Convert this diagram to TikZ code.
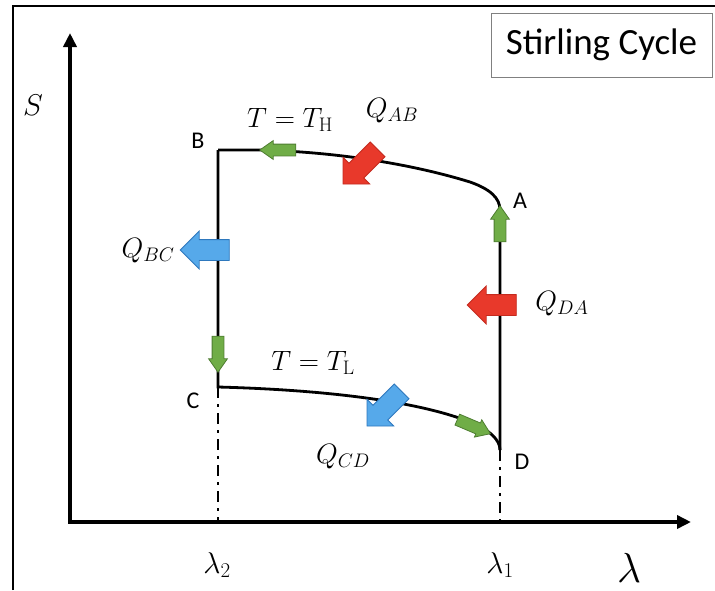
\RequirePackage{fix-cm}
\documentclass[tikz,border=0pt]{standalone}
\usepackage{fontspec}
\setsansfont{Carlito}
\usetikzlibrary{arrows.meta,shapes.arrows,positioning}
\definecolor{qred}{HTML}{E8392B}
\definecolor{qredline}{HTML}{C42A1E}
\definecolor{qblue}{HTML}{56A9EA}
\definecolor{qblueline}{HTML}{2E78BD}
\definecolor{qgreen}{HTML}{70AD47}
\definecolor{qgreenline}{HTML}{4E7D31}
\begin{document}
\begin{tikzpicture}[
  x=1pt, y=-1pt,
  every node/.style={inner sep=0pt},
  frame/.style={line width=2.5pt},
  axis/.style={
    line width=3.5pt,
    {Triangle[length=14pt,width=13pt]}-{Triangle[length=14pt,width=13pt]}
  },
  process/.style={line width=2.8pt},
  projection/.style={line width=2.8pt, dash pattern=on 11pt off 6pt on 3pt off 6pt},
  title/.style={draw=gray, line width=0.8pt, minimum width=221pt, minimum height=64pt,
    font=\sffamily\fontsize{37}{40}\selectfont},
  pointlabel/.style={font=\sffamily\fontsize{24}{28}\selectfont},
  mathlabel/.style={anchor=base, font=\fontsize{28}{32}\selectfont},
  axislabel/.style={anchor=base, font=\fontsize{30}{34}\selectfont},
  bigarrow/.style={
    single arrow, text height=20pt, text depth=0pt,
    minimum height=49pt, minimum width=37pt,
    single arrow head extend=8.5pt, line width=0.8pt
  },
  heatin/.style={bigarrow, fill=qred, draw=qredline},
  heatout/.style={bigarrow, fill=qblue, draw=qblueline},
  flow/.style={
    single arrow, text height=11pt, text depth=0pt,
    minimum height=36pt, minimum width=18pt,
    single arrow head extend=3.5pt, single arrow tip angle=70,
    line width=0.8pt, fill=qgreen, draw=qgreenline
  }
]
\useasboundingbox (0,0) rectangle (715,590);

\draw[frame] (13,590) -- (13,6) -- (715,6);
\node[title] (name) at (601.5,45) {Stirling Cycle};

\coordinate (O) at (70,522);
\coordinate (ytop) at (70,33);
\coordinate (xend) at (691,522);
\coordinate (B) at (218,150);
\coordinate (A) at (500,210);
\coordinate (C) at (218,387);
\coordinate (D) at (500,450);
\coordinate (l2) at (218,522);
\coordinate (l1) at (500,522);

\draw[axis] (ytop) -- (O) -- (xend);
\draw[projection] (C) -- (l2);
\draw[projection] (D) -- (l1);
\draw[process] (B) -- (260,150) .. controls (340,152) and (415,165) .. (470,182)
  .. controls (490,189) and (500,198) .. (A) -- (D);
\draw[process] (B) -- (C) .. controls (330,390) and (420,402) .. (470,422)
  .. controls (490,430) and (500,440) .. (D);

\node[flow, rotate=180] (fAB) at (282,150) {};
\node[flow, rotate=270] (fBC) at (218,350) {};
\node[flow, rotate=-23] (fCD) at (470,425) {};
\node[flow, rotate=90] (fDA) at (500,228) {};

\node[heatin, rotate=225] (hAB) at (364,163) {};
\node[heatout, rotate=180] (hBC) at (210,250) {};
\node[heatout, rotate=225] (hCD) at (388,405) {};
\node[heatin, rotate=180] (hDA) at (497,305) {};

\node[pointlabel] (labA) at (520,201) {A};
\node[pointlabel] (labB) at (198,141) {B};
\node[pointlabel] (labC) at (193,401) {C};
\node[pointlabel] (labD) at (522,462) {D};

\node[mathlabel] (TH) at (290,127) {$T=T_{\mathrm{H}}$};
\node[mathlabel] (TL) at (313,370) {$T=T_{\mathrm{L}}$};
\node[mathlabel] (QAB) at (392,117) {$Q_{AB}$};
\node[mathlabel] (QBC) at (148,257) {$Q_{BC}$};
\node[mathlabel] (QCD) at (343,463) {$Q_{CD}$};
\node[mathlabel] (QDA) at (562,310) {$Q_{DA}$};

\node[axislabel] (Slab) at (33,115) {$S$};
\node[axislabel] (lam2) at (217,573) {$\lambda_2$};
\node[axislabel] (lam1) at (500,573) {$\lambda_1$};
\node[anchor=base, font=\fontsize{42}{46}\selectfont] (lam) at (629,582) {$\lambda$};
\end{tikzpicture}
\end{document}
